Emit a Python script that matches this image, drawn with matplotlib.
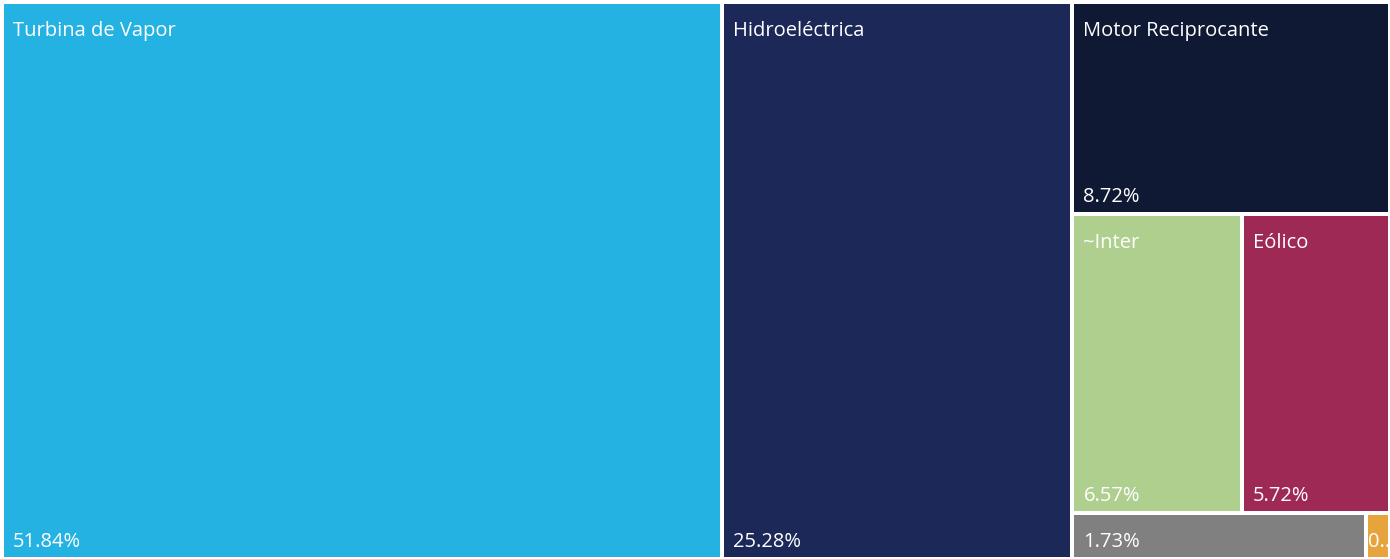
import matplotlib
matplotlib.use("Agg")
import matplotlib.pyplot as plt
from matplotlib.patches import Rectangle

# ---- data ----
categories = ["Turbina de Vapor", "Hidroeléctrica", "Motor Reciprocante",
              "~Inter", "Eólico", "Otro", "Solar"]
shares = [51.84, 25.28, 8.72, 6.57, 5.72, 1.73, 0.14]
colors = ["#24B2E2", "#1B2858", "#101934", "#AFCF8F", "#9E2954",
          "#808080", "#E8A43C"]

W_PX, H_PX = 1390, 559


def worst(row, side):
    s = sum(row)
    return max(max(side * side * r / (s * s), (s * s) / (side * side * r)) for r in row)


def squarify(vals, x, y, w, h):
    total = sum(vals)
    areas = [v / total * w * h for v in vals]
    rects = []
    i = 0
    while i < len(areas):
        short = min(w, h)
        row = [areas[i]]
        j = i + 1
        while j < len(areas):
            if worst(row + [areas[j]], short) <= worst(row, short) * 1.02:
                row.append(areas[j])
                j += 1
            else:
                break
        s = sum(row)
        if w >= h:
            cw = s / h
            yy = y
            for a in row:
                th = a / cw
                rects.append((x, yy, cw, th))
                yy += th
            x += cw
            w -= cw
        else:
            rh = s / w
            xx = x
            for a in row:
                tw = a / rh
                rects.append((xx, y, tw, rh))
                xx += tw
            y += rh
            h -= rh
        i = j
    return rects


fig = plt.figure(figsize=(W_PX / 100, H_PX / 100), dpi=100)
ax = fig.add_axes([0, 0, 1, 1])
ax.set_xlim(0, W_PX)
ax.set_ylim(H_PX, 0)
ax.axis("off")

rects = squarify(shares, 2, 2, W_PX - 2, H_PX - 2)
gap = 2
fs = 14.5
font = ["Open Sans", "DejaVu Sans"]
for (x, y, w, h), name, val, col in zip(rects, categories, shares, colors):
    r = Rectangle((x + gap, y + gap), w - 2 * gap, h - 2 * gap,
                  facecolor=col, edgecolor="none")
    ax.add_patch(r)
    pad = 9 if w > 40 else 0
    if h > 80:
        t = ax.text(x + gap + pad, y + gap + 17, name, color="white",
                    fontsize=fs, family=font, ha="left", va="top")
        t.set_clip_path(r)
    label = f"{val:.2f}%"
    if w < 40:
        label = label[0] + ".."
    t = ax.text(x + gap + pad, y + h - gap - 10, label, color="white",
                fontsize=fs, family=font, ha="left", va="baseline")
    t.set_clip_path(r)

fig.savefig("out.png", dpi=100, facecolor="white")
